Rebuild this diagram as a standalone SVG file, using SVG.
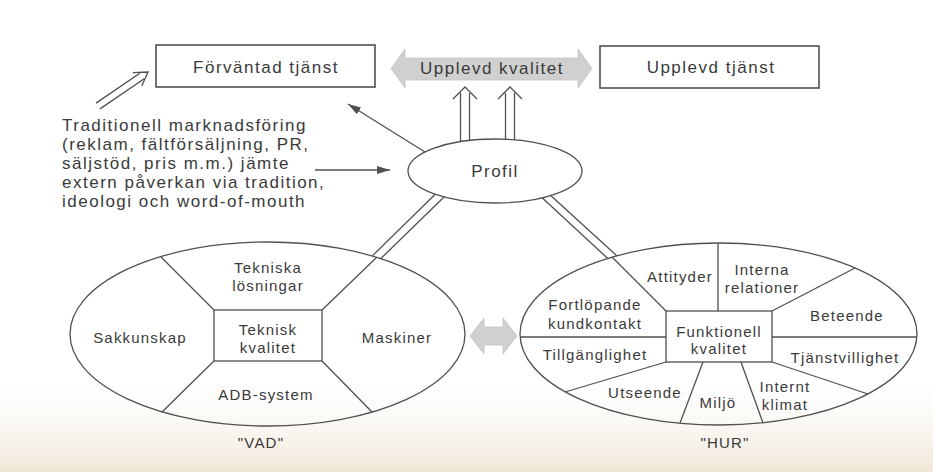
<svg xmlns="http://www.w3.org/2000/svg" width="933" height="472" viewBox="0 0 933 472">
<style>
  .t { font-family: "Liberation Sans", Arial, sans-serif; fill: #3a3a3a; }
  .big { font-size: 17px; letter-spacing: 1.5px; }
  .sm { font-size: 15px; letter-spacing: 1.2px; }
  .mid { text-anchor: middle; }
  .ln { fill: none; stroke: #505050; stroke-width: 1.3; }
  .box { fill: #ffffff; stroke: #505050; stroke-width: 1.6; }
  .gray { fill: #d0d0d0; stroke: #c4c4c4; stroke-width: 0.8; }
</style>
<defs>
  <marker id="ah" markerWidth="13" markerHeight="8" refX="13" refY="4" orient="auto" markerUnits="userSpaceOnUse">
    <path d="M0,0 L13,4 L0,8 z" fill="#505050"/>
  </marker>
  <linearGradient id="bg" x1="0" y1="0" x2="0" y2="1">
    <stop offset="0" stop-color="#ffffff" stop-opacity="0"/>
    <stop offset="1" stop-color="#efe6d6" stop-opacity="1"/>
  </linearGradient>
</defs>
<rect x="0" y="0" width="933" height="472" fill="#ffffff"/>
<rect x="0" y="370" width="933" height="102" fill="url(#bg)"/>

<g id="connectors">
  <!-- open double arrow from paragraph to Förväntad tjänst -->
  <path class="ln" d="M100,108.9 L144.2,78.8 M96,103.1 L140.2,73 M132.8,72.7 L148,72 L141.8,85.9"/>
  <!-- Profil to Förväntad tjänst -->
  <line class="ln" x1="425" y1="152" x2="348" y2="104" marker-end="url(#ah)"/>
  <!-- paragraph to Profil -->
  <line class="ln" x1="315" y1="170" x2="390" y2="170" marker-end="url(#ah)"/>
  <!-- Profil up to Upplevd kvalitet -->
  <path class="ln" d="M460.5,142 L460.5,93 M469.5,140 L469.5,93 M453,99 L465,87 L477,99"/>
  <path class="ln" d="M505.5,140 L505.5,93 M514.5,140 L514.5,93 M498,99 L510,87 L522,99"/>
  <!-- Profil to VAD ellipse -->
  <path class="ln" d="M444,197 L380.8,258.6 M435.2,194.3 L372.3,255.9"/>
  <!-- Profil to HUR ellipse -->
  <path class="ln" d="M550.7,195.6 L617,256 M542.4,198 L607.8,258.5"/>
  <!-- gray two-way arrow top -->
  <path class="gray" d="M391,68.5 L405,49 L405,58 L578,58 L578,49 L592,68.5 L578,88 L578,80 L405,80 L405,88 Z"/>
  <!-- gray two-way arrow between ellipses -->
  <path class="gray" d="M470,336 L484,318 L484,327 L503,327 L503,318 L517,336 L503,354 L503,345 L484,345 L484,354 Z"/>
</g>

<g id="forvantad">
  <rect class="box" x="156" y="45" width="219" height="42"/>
  <text class="t big mid" x="266" y="73">Förväntad tjänst</text>
</g>

<g id="upplevd-kvalitet">
  <text class="t big mid" x="492" y="74">Upplevd kvalitet</text>
</g>

<g id="upplevd-tjanst">
  <rect class="box" x="600" y="46" width="219" height="42"/>
  <text class="t big mid" x="711" y="73">Upplevd tjänst</text>
</g>

<g id="paragraph">
  <text class="t big" x="62" y="131">Traditionell marknadsföring</text>
  <text class="t big" x="62" y="150">(reklam, fältförsäljning, PR,</text>
  <text class="t big" x="62" y="169">säljstöd, pris m.m.) jämte</text>
  <text class="t big" x="62" y="188">extern påverkan via tradition,</text>
  <text class="t big" x="62" y="207">ideologi och word-of-mouth</text>
</g>

<g id="profil">
  <ellipse class="ln" cx="495" cy="171" rx="87" ry="32"/>
  <text class="t big mid" x="495" y="177">Profil</text>
</g>

<g id="vad">
  <ellipse class="ln" cx="267.5" cy="334" rx="197.5" ry="92"/>
  <rect class="ln" x="214" y="310" width="108" height="51"/>
  <path class="ln" d="M214,310 L161,257 M322,310 L376,258 M214,361 L162,412 M322,361 L372,412"/>
  <text class="t sm mid" x="268" y="273">Tekniska</text>
  <text class="t sm mid" x="268" y="291">lösningar</text>
  <text class="t sm mid" x="140" y="343">Sakkunskap</text>
  <text class="t sm mid" x="268" y="335">Teknisk</text>
  <text class="t sm mid" x="268" y="353">kvalitet</text>
  <text class="t sm mid" x="397" y="343">Maskiner</text>
  <text class="t sm mid" x="266" y="400">ADB-system</text>
  <text class="t sm mid" x="261" y="448">"VAD"</text>
</g>

<g id="hur">
  <ellipse class="ln" cx="718.5" cy="334" rx="198.5" ry="91"/>
  <rect class="ln" x="666" y="311" width="106" height="51"/>
  <path class="ln" d="M666,311 L612,257 M718,311 L718,243 M772,311 L855,268 M772,337 L917,337 M520,337 L666,337 M772,362 L868,394 M666,362 L565,392 M703,362 L680,423 M741,362 L763,423"/>
  <text class="t sm mid" x="680" y="282">Attityder</text>
  <text class="t sm mid" x="762" y="275">Interna</text>
  <text class="t sm mid" x="762" y="293">relationer</text>
  <text class="t sm mid" x="595" y="310">Fortlöpande</text>
  <text class="t sm mid" x="595" y="329">kundkontakt</text>
  <text class="t sm mid" x="847" y="321">Beteende</text>
  <text class="t sm mid" x="719" y="337">Funktionell</text>
  <text class="t sm mid" x="719" y="354">kvalitet</text>
  <text class="t sm mid" x="595" y="360">Tillgänglighet</text>
  <text class="t sm mid" x="845" y="363">Tjänstvillighet</text>
  <text class="t sm mid" x="645" y="398">Utseende</text>
  <text class="t sm mid" x="718" y="408">Miljö</text>
  <text class="t sm mid" x="785" y="392">Internt</text>
  <text class="t sm mid" x="785" y="410">klimat</text>
  <text class="t sm mid" x="725" y="448">"HUR"</text>
</g>
</svg>
